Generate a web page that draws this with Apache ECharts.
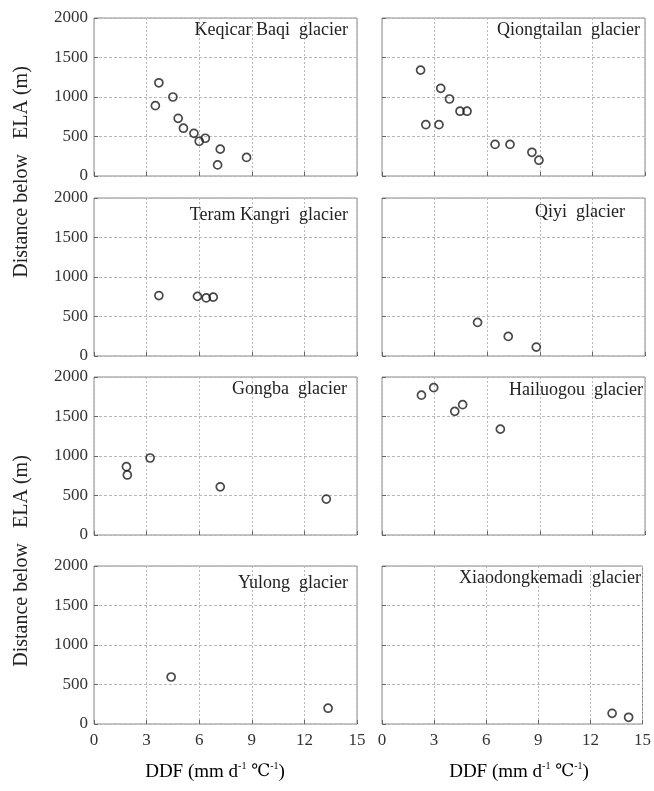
<!DOCTYPE html>
<html>
<head>
<meta charset="utf-8">
<script src="https://cdn.jsdelivr.net/npm/echarts@6/dist/echarts.min.js"></script>
<style>html,body{margin:0;padding:0;background:#fff;}#c{width:654px;height:791px;}</style>
</head>
<body>
<div id="c"></div>
<script>
// ---- data ----
const glacierNames = ['Keqicar Baqi  glacier','Qiongtailan  glacier','Teram Kangri  glacier','Qiyi  glacier','Gongba  glacier','Hailuogou  glacier','Yulong  glacier','Xiaodongkemadi  glacier'];
const keqicarDDF  = [3.5, 3.7, 4.5, 4.8, 5.1, 5.7, 6.0, 6.35, 7.2, 7.05, 8.7];
const keqicarDist = [890, 1180, 1000, 730, 605, 540, 440, 478, 340, 140, 235];
const qiongDDF  = [2.2, 2.5, 3.25, 3.35, 3.85, 4.45, 4.85, 6.45, 7.3, 8.55, 8.95];
const qiongDist = [1340, 650, 650, 1110, 975, 820, 820, 400, 400, 300, 200];
const teramDDF  = [3.7, 5.9, 6.4, 6.8];
const teramDist = [765, 755, 735, 745];
const qiyiDDF  = [5.45, 7.2, 8.8];
const qiyiDist = [425, 248, 113];
const gongbaDDF  = [1.85, 1.9, 3.2, 7.2, 13.25];
const gongbaDist = [865, 760, 975, 610, 455];
const hailuoDDF  = [2.25, 2.95, 4.15, 4.6, 6.75];
const hailuoDist = [1770, 1865, 1565, 1650, 1340];
const yulongDDF  = [4.4, 13.35];
const yulongDist = [595, 200];
const xiaoDDF  = [13.25, 14.2];
const xiaoDist = [135, 85];
const xTicks = [0, 3, 6, 9, 12, 15];
const yTicks = [0, 500, 1000, 1500, 2000];

const seriesX = [keqicarDDF, qiongDDF, teramDDF, qiyiDDF, gongbaDDF, hailuoDDF, yulongDDF, xiaoDDF];
const seriesY = [keqicarDist, qiongDist, teramDist, qiyiDist, gongbaDist, hailuoDist, yulongDist, xiaoDist];

// ---- layout ----
const colLeft = [94, 382];
const rowTop = [18, 198, 377, 566];
const gw = 263, gh = 158;
const titlePos = [
  {right: 306, top: 21}, {right: 14, top: 21},
  {right: 306, top: 206}, {right: 29, top: 203},
  {right: 307, top: 380}, {right: 11, top: 381},
  {right: 306, top: 574}, {right: 13, top: 569}
];
const serif = 'Liberation Serif';
const serifC = "'Liberation Serif', 'DejaVu Serif', serif";

const grids = [], xAxes = [], yAxes = [], series = [], titles = [];
for (let i = 0; i < 8; i++) {
  const r = Math.floor(i / 2), c = i % 2;
  grids.push({left: colLeft[c], top: rowTop[r], width: gw, height: gh, show: true,
    borderColor: '#8a8a8a', borderWidth: 1, backgroundColor: '#fff'});
  xAxes.push({type: 'value', gridIndex: i, min: xTicks[0], max: xTicks[xTicks.length-1], interval: 3,
    axisLine: {show: false},
    axisTick: {show: true, inside: true, length: 4, lineStyle: {color: '#666'}},
    axisLabel: {show: r === 3, color: '#333', fontFamily: serif, fontSize: 17, margin: 8,
      formatter: v => String(v)},
    splitLine: {show: true, lineStyle: {color: '#b8b8b8', type: [2, 2], width: 1}}});
  yAxes.push({type: 'value', gridIndex: i, min: yTicks[0], max: yTicks[yTicks.length-1], interval: 500,
    axisLine: {show: false},
    axisTick: {show: true, inside: true, length: 4, lineStyle: {color: '#666'}},
    axisLabel: {show: c === 0, color: '#333', fontFamily: serif, fontSize: 17, margin: 6,
      formatter: v => String(v)},
    splitLine: {show: true, lineStyle: {color: '#b8b8b8', type: [3, 2], width: 1}}});
  series.push({type: 'scatter', xAxisIndex: i, yAxisIndex: i, symbol: 'circle', symbolSize: 8,
    itemStyle: {color: 'rgba(255,255,255,0)', borderColor: '#1a1a1a', borderWidth: 1.7},
    data: seriesX[i].map((x, k) => [x, seriesY[i][k]])});
  titles.push(Object.assign({text: glacierNames[i], padding: 0,
    textStyle: {fontFamily: serif, fontSize: 18, fontWeight: 'normal', color: '#222'}}, titlePos[i]));
}

const xName = '{a|DDF (mm d}{s|-1}{a| }{c|℃}{s|-1}{a|)}';
const rich = {a: {fontFamily: serif, fontSize: 19, color: '#222', lineHeight: 22},
              c: {fontFamily: serifC, fontSize: 17, color: '#222', lineHeight: 22},
              s: {fontFamily: serif, fontSize: 10, color: '#222', verticalAlign: 'top', lineHeight: 22}};

const chart = echarts.init(document.getElementById('c'), null, {renderer: 'canvas'});
chart.setOption({
  backgroundColor: '#fff',
  animation: false,
  textStyle: {fontFamily: serif},
  title: titles,
  grid: grids,
  xAxis: xAxes,
  yAxis: yAxes,
  series: series,
  graphic: [
    {type: 'text', x: 22, y: 172, rotation: Math.PI / 2,
      style: {text: 'Distance below   ELA (m)', fontFamily: serif, fontSize: 20, fill: '#222', align: 'center', verticalAlign: 'middle'}},
    {type: 'text', x: 22, y: 561, rotation: Math.PI / 2,
      style: {text: 'Distance below   ELA (m)', fontFamily: serif, fontSize: 20, fill: '#222', align: 'center', verticalAlign: 'middle'}},
    {type: 'text', x: 215, y: 772,
      style: {text: xName, rich: rich, align: 'center', verticalAlign: 'middle'}},
    {type: 'text', x: 519, y: 772,
      style: {text: xName, rich: rich, align: 'center', verticalAlign: 'middle'}}
  ]
});
</script>
</body>
</html>
